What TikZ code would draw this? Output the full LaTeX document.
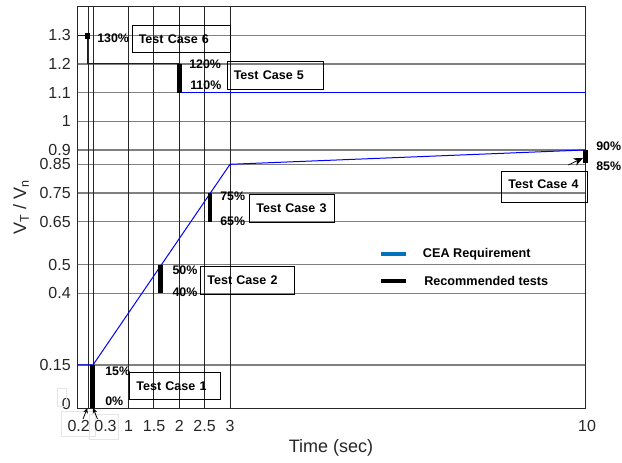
\documentclass[tikz,border=0pt]{standalone}
\usepackage{fontspec}
\setmainfont{Liberation Sans}
\usetikzlibrary{arrows.meta}
\definecolor{ceablue}{RGB}{0,114,189}
\definecolor{axgray}{RGB}{38,38,38}
\begin{document}
\begin{tikzpicture}[x=0.75pt,y=0.75pt,
  hgrid/.style={draw=black!50, line width=0.9pt},
  vgrid/.style={draw=axgray, line width=0.6pt},
  curve/.style={draw=blue, line width=0.75pt},
  testbar/.style={draw=black, line width=3.4pt},
  ticklab/.style={font=\fontsize{12}{14}\selectfont, text=axgray, inner sep=0pt},
  pct/.style={font=\fontsize{9.3}{10}\selectfont\bfseries, inner sep=0pt, anchor=west},
  casebox/.style={draw=black, line width=0.6pt, anchor=north west, align=left,
    font=\fontsize{9.4}{10}\selectfont\bfseries, inner xsep=5pt, inner ysep=0pt},
  faint/.style={draw=black!10, line width=0.5pt, inner sep=0pt},
  lbl/.style={font=\fontsize{13.5}{15}\selectfont, text=axgray, inner sep=0pt},
  legtxt/.style={font=\fontsize{9.5}{10}\selectfont\bfseries, inner sep=0pt, anchor=west},
  ptr/.style={draw=black, line width=0.6pt}]
\useasboundingbox (0,0) rectangle (622,463);

% ---------- data area ----------
\begin{scope}[shift={(77.75,55)}, xscale=50.75, yscale=286.7]
  \foreach \v in {0.15,0.4,0.5,0.65,0.75,0.85,0.9,1,1.1,1.2,1.3}
    \draw[hgrid] (0,\v) -- (10,\v);
  \foreach \t in {0.2,0.3,1,1.5,2,2.5,3}
    \draw[vgrid] (\t,0) -- (\t,1.4);
  \draw[vgrid] (0,0) rectangle (10,1.4);
  % CEA requirement curves
  \draw[curve] (0,0.15) -- (0.3,0.15) -- (3,0.85) -- (10,0.9);
  \draw[curve] (0,1.3) -- (0.2,1.3) -- (0.2,1.2) -- (2,1.2) -- (2,1.1) -- (10,1.1);
  % recommended tests
  \draw[testbar] (0.29,0) -- (0.29,0.15);
  \draw[testbar] (1.63,0.4) -- (1.63,0.5);
  \draw[testbar] (2.61,0.65) -- (2.61,0.75);
  \draw[testbar] (2,1.1) -- (2,1.2);
  \draw[testbar] (0.19,1.288) -- (0.19,1.309);
  \draw[testbar] (10,0.853) -- (10,0.9);
  % arrow targets
  \coordinate (t02) at (0.19,0);
  \coordinate (t03) at (0.3,0);
\end{scope}

% ---------- tick labels ----------
\foreach \v/\y in {0.15/98.0,0.4/169.7,0.5/198.35,0.65/241.4,0.75/270.0,0.85/298.7,0.9/313.0,1/341.7,1.1/370.4,1.2/399.0,1.3/427.7}
  \node[ticklab, anchor=east] at (71,\y) {\v};
\node[ticklab, anchor=east] (y0) at (71,59) {0};
\node[faint, minimum width=6.5pt, minimum height=14pt] (y0box) at (61.7,65.7) {};
\foreach \t/\x in {1/128.5,1.5/154.1,2/179.25,2.5/204.6,3/230,10/587}
  \node[ticklab] at (\x,37) {\t};
\node[faint, minimum width=25.5pt, minimum height=18.2pt] (x02box) at (78,39.2) {};
\node[faint, minimum width=22pt, minimum height=19pt] (x03box) at (103.8,36.3) {};
\node[ticklab] (x02) at (78.7,37) {0.2};
\node[ticklab] (x03) at (105.5,37) {0.3};

% ---------- axis labels ----------
\node[lbl] (xlab) at (331,15) {Time (sec)};
\node[lbl, rotate=90] (ylab) at (21,256) {V\textsubscript{T} / V\textsubscript{n}};

% ---------- percent labels ----------
\node[pct] (p130) at (97,425) {130\%};
\node[pct] (p120) at (189,399) {120\%};
\node[pct] (p110) at (190,377.3) {110\%};
\node[pct] (p75) at (220,266.3) {75\%};
\node[pct] (p65) at (220,241.3) {65\%};
\node[pct] (p50) at (172.3,193) {50\%};
\node[pct] (p40) at (172.3,170.7) {40\%};
\node[pct] (p15) at (105,91.3) {15\%};
\node[pct] (p0) at (105,62) {0\%};
\node[pct] (p90) at (596,316.3) {90\%};
\node[pct] (p85) at (596,297) {85\%};

% ---------- test case boxes ----------
\node[casebox, text width=63.7pt, minimum height=20.5pt] (tc6) at (131.7,438) {Test Case 6};
\node[casebox, text width=62.5pt, minimum height=20.8pt] (tc5) at (226.7,402) {Test Case 5};
\node[casebox, text width=53.75pt, minimum height=20.8pt] (tc3) at (249.3,268.7) {Test Case 3};
\node[casebox, text width=60.5pt, minimum height=21pt] (tc2) at (200.3,197) {Test Case 2};
\node[casebox, text width=58.25pt, minimum height=20.25pt] (tc1) at (129.3,90.7) {Test Case 1};
\node[casebox, text width=54.5pt, minimum height=23.25pt, text depth=4pt] (tc4) at (501.3,292.3) {Test Case 4};

% ---------- legend ----------
\draw[ceablue, line width=3pt] (381,209) -- (406,209);
\node[legtxt] (leg1) at (422.7,209) {CEA Requirement};
\draw[black, line width=3pt] (381,182) -- (406,182);
\node[legtxt] (leg2) at (424,182) {Recommended tests};

% ---------- pointers ----------
\coordinate (a4s) at (568.3,298);
\coordinate (a4e) at (583,305);
\draw[ptr, -{Stealth[length=7pt,width=6pt]}] (a4s) -- (a4e);
\coordinate (a02s) at (83,44);
\draw[ptr, -{Stealth[length=4pt,width=3.5pt]}] (a02s) -- (t02);
\coordinate (a03s) at (97.5,44);
\draw[ptr, -{Stealth[length=4pt,width=3.5pt]}] (a03s) -- (t03);
\end{tikzpicture}
\end{document}
